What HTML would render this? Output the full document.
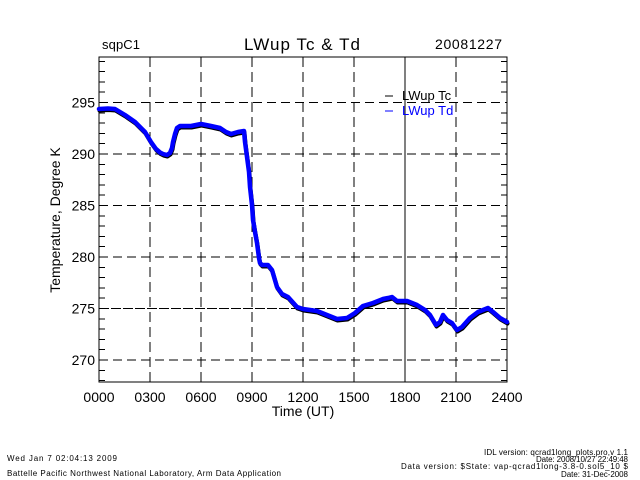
<!DOCTYPE html>
<html><head><meta charset="utf-8"><style>
html,body{margin:0;padding:0;background:#fff;}
svg{display:block;}
text{font-family:"Liberation Sans",sans-serif;fill:#000;}
</style></head><body>
<svg width="640" height="480" viewBox="0 0 640 480" xmlns="http://www.w3.org/2000/svg">
<rect width="640" height="480" fill="#fff"/>
<!-- gridlines -->
<g stroke="#000" stroke-width="1" fill="none" shape-rendering="crispEdges">
<line x1="99" y1="102.5" x2="507" y2="102.5" stroke-dasharray="9,5"/>
<line x1="99" y1="154" x2="507" y2="154" stroke-dasharray="9,5"/>
<line x1="99" y1="205.5" x2="507" y2="205.5" stroke-dasharray="9,5"/>
<line x1="99" y1="257" x2="507" y2="257" stroke-dasharray="9,5"/>
<line x1="99" y1="308.5" x2="507" y2="308.5" stroke-dasharray="10,2"/>
<line x1="99" y1="360" x2="507" y2="360" stroke-dasharray="9,5"/>
<line x1="150" y1="57" x2="150" y2="382" stroke-dasharray="10,5"/>
<line x1="201" y1="57" x2="201" y2="382" stroke-dasharray="10,5"/>
<line x1="252" y1="57" x2="252" y2="382" stroke-dasharray="10,5"/>
<line x1="303" y1="57" x2="303" y2="382" stroke-dasharray="10,5"/>
<line x1="354" y1="57" x2="354" y2="382" stroke-dasharray="10,5"/>
<line x1="405" y1="57" x2="405" y2="382"/>
<line x1="456" y1="57" x2="456" y2="382" stroke-dasharray="10,5"/>
<!-- axes box -->
<rect x="99" y="57" width="408" height="325"/>
<!-- minor y ticks -->
<path d="M99 380.6h6M99 370.3h6M99 349.7h6M99 339.4h6M99 329.1h6M99 318.8h6M99 298.2h6M99 287.9h6M99 277.6h6M99 267.3h6M99 246.7h6M99 236.4h6M99 226.1h6M99 215.8h6M99 195.2h6M99 184.9h6M99 174.6h6M99 164.3h6M99 143.7h6M99 133.4h6M99 123.1h6M99 112.8h6M99 92.2h6M99 81.9h6M99 71.6h6M99 61.3h6"/>
<path d="M507 380.6h-6M507 370.3h-6M507 349.7h-6M507 339.4h-6M507 329.1h-6M507 318.8h-6M507 298.2h-6M507 287.9h-6M507 277.6h-6M507 267.3h-6M507 246.7h-6M507 236.4h-6M507 226.1h-6M507 215.8h-6M507 195.2h-6M507 184.9h-6M507 174.6h-6M507 164.3h-6M507 143.7h-6M507 133.4h-6M507 123.1h-6M507 112.8h-6M507 92.2h-6M507 81.9h-6M507 71.6h-6M507 61.3h-6"/>
<!-- major tick ends -->
<path d="M150 382v-6M201 382v-6M252 382v-6M303 382v-6M354 382v-6M456 382v-6M150 57v6M201 57v6M252 57v6M303 57v6M354 57v6M456 57v6"/>
</g>
<!-- data -->
<g fill="none" stroke-linejoin="round" stroke-linecap="round">
<polyline transform="translate(0.5,1.5)" stroke="#000" stroke-width="4" points="99,109 108,108.5 115,109 120,112 125,115 135,122 145,132 151,142 156,149 160,152.5 163,154 167,155 170,153 172,148 173,142 175,134 177,128 180,126 191,126 201,124 211,126 220,128 226,132 231,134 238,132 244,131 245,142 247,157 249,172 250,187 252,205 253,220 255,232 257,243 259,258 260,263 262,265 268,265 272,270 277,287 282,294 288,297 297,307 303,309 317,311 327,315 337,319 347,318 355,313 363,306 373,303 383,299 388,298 392,297 397,301 407,301 417,305 425,310 430,315 436,325 440,322 443,315 447,320 452,323 457,330 462,327 470,318 478,312 488,308 493,312 500,318 507,322"/>
<polyline stroke="#0000ff" stroke-width="4.5" points="99,109 108,108.5 115,109 120,112 125,115 135,122 145,132 151,142 156,149 160,152.5 163,154 167,155 170,153 172,148 173,142 175,134 177,128 180,126 191,126 201,124 211,126 220,128 226,132 231,134 238,132 244,131 245,142 247,157 249,172 250,187 252,205 253,220 255,232 257,243 259,258 260,263 262,265 268,265 272,270 277,287 282,294 288,297 297,307 303,309 317,311 327,315 337,319 347,318 355,313 363,306 373,303 383,299 388,298 392,297 397,301 407,301 417,305 425,310 430,315 436,325 440,322 443,315 447,320 452,323 457,330 462,327 470,318 478,312 488,308 493,312 500,318 507,322"/>
</g>
<!-- legend -->
<line x1="385" y1="96" x2="393" y2="96" stroke="#000" stroke-width="1"/>
<text x="402" y="100" font-size="13">LWup Tc</text>
<line x1="385" y1="111" x2="393" y2="111" stroke="#0000ff" stroke-width="1"/>
<text x="402" y="115" font-size="13" style="fill:#0000ff">LWup Td</text>
<!-- titles -->
<text x="102" y="49" font-size="13" textLength="38">sqpC1</text>
<text x="302" y="50" font-size="17" text-anchor="middle" textLength="116">LWup Tc &amp; Td</text>
<text x="502" y="49" font-size="14" text-anchor="end" textLength="67">20081227</text>
<!-- y tick labels -->
<g font-size="14" text-anchor="end">
<text x="95" y="107.5">295</text>
<text x="95" y="159">290</text>
<text x="95" y="210.5">285</text>
<text x="95" y="262">280</text>
<text x="95" y="313.5">275</text>
<text x="95" y="365">270</text>
</g>
<text transform="translate(60,220) rotate(-90)" font-size="14" text-anchor="middle">Temperature, Degree K</text>
<!-- x tick labels -->
<g font-size="14" text-anchor="middle">
<text x="99" y="402">0000</text>
<text x="150" y="402">0300</text>
<text x="201" y="402">0600</text>
<text x="252" y="402">0900</text>
<text x="303" y="402">1200</text>
<text x="354" y="402">1500</text>
<text x="405" y="402">1800</text>
<text x="456" y="402">2100</text>
<text x="507" y="402">2400</text>
</g>
<text x="303" y="416" font-size="14" text-anchor="middle">Time (UT)</text>
<!-- footer -->
<text x="7" y="461" font-size="8" textLength="110">Wed Jan  7 02:04:13 2009</text>
<text x="7" y="476" font-size="8" textLength="274">Battelle Pacific Northwest National Laboratory, Arm Data Application</text>
<g font-size="8" text-anchor="end">
<text x="628" y="455" textLength="144">IDL version: qcrad1long_plots.pro,v 1.1</text>
<text x="628" y="462" textLength="92">Date: 2008/10/27 22:49:48</text>
<text x="628" y="469" textLength="227">Data version: $State: vap-qcrad1long-3.8-0.sol5_10 $</text>
<text x="628" y="477" textLength="67">Date: 31-Dec-2008</text>
</g>
</svg>
</body></html>
